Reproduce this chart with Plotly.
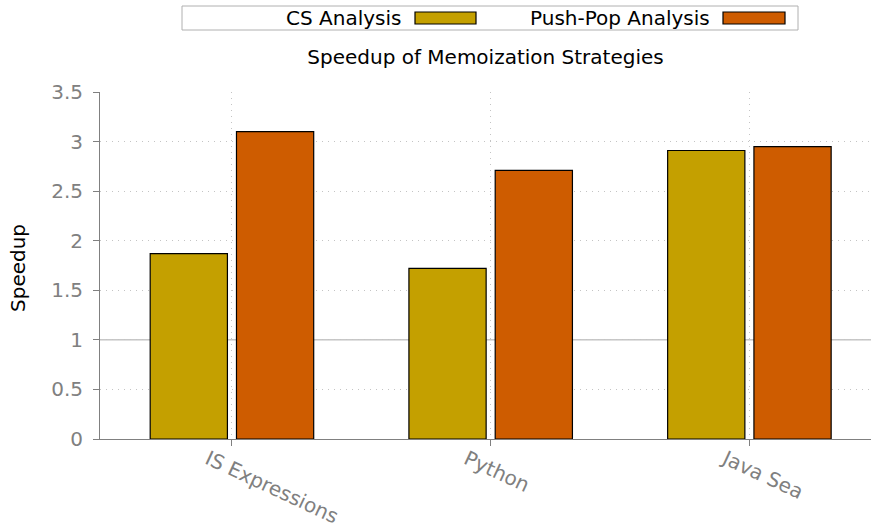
import plotly.graph_objects as go

categories = ["IS Expressions", "Python", "Java Sea"]
cs_analysis = [1.87, 1.72, 2.91]
push_pop_analysis = [3.10, 2.71, 2.95]
series_names = ["CS Analysis", "Push-Pop Analysis"]
series_colors = ["#C4A000", "#CE5C00"]
y_title = "Speedup"
chart_title = "Speedup of Memoization Strategies"

FONT = "DejaVu Sans"
GREY = "#808080"
GRID = "#c4c4c4"

fig = go.Figure()
for name, vals, col in zip(series_names, [cs_analysis, push_pop_analysis], series_colors):
    fig.add_trace(go.Bar(
        x=categories, y=vals, name=name,
        marker=dict(color=col, line=dict(color="black", width=1.2)),
        showlegend=False,
    ))

fig.update_layout(
    width=871, height=528,
    margin=dict(l=100, r=0, t=92, b=89),
    paper_bgcolor="white", plot_bgcolor="white",
    barmode="group", bargap=0.333, bargroupgap=0.105,
    font=dict(family=FONT, size=20, color=GREY),
    title=dict(text=chart_title, x=0.5, xref="paper",
               y=1 - 57 / 528, yref="container", yanchor="middle",
               font=dict(family=FONT, size=20, color="black")),
    xaxis=dict(
        range=[-0.51, 2.47], showline=True, linecolor=GREY, linewidth=1,
        ticks="outside", ticklen=6, tickcolor=GREY, tickangle=25,
        ticklabelshift=-24, ticklabelstandoff=-6, automargin=False,
        showgrid=True, gridcolor=GRID, griddash="1px,5px", gridwidth=1,
        tickfont=dict(family=FONT, size=20, color=GREY),
        zeroline=False,
    ),
    yaxis=dict(
        range=[0, 3.5], dtick=0.5, showline=True, linecolor=GREY, linewidth=1,
        ticks="outside", ticklen=6, tickcolor=GREY, automargin=False,
        ticklabelstandoff=6,
        showgrid=True, gridcolor=GRID, griddash="1px,5px", gridwidth=1,
        tickfont=dict(family=FONT, size=20, color=GREY),
        zeroline=False,
    ),
    showlegend=False,
)

# reference line at 1
fig.add_shape(type="line", xref="paper", yref="y", x0=0, x1=1, y0=1, y1=1,
              line=dict(color="#a8a8a8", width=1), layer="below")

# paper coords derived from pixel layout
PL, PW, PB, PH = 100, 771, 439, 347
def fx(x):
    return (x - PL) / PW
def fy(y):
    return (PB - y) / PH

# y-axis title
fig.add_annotation(text=y_title, xref="paper", yref="paper", x=fx(18), y=fy(268),
                   textangle=-90, showarrow=False, xanchor="center", yanchor="middle",
                   font=dict(family=FONT, size=20, color="black"))

# gnuplot-style legend box (text then swatch)
fig.add_shape(type="rect", xref="paper", yref="paper",
              x0=fx(182), x1=fx(798), y0=fy(30), y1=fy(6),
              line=dict(color="#b0b0b0", width=1), fillcolor="white")

legend_items = [
    (series_names[0], series_colors[0], 403, 415, 476),
    (series_names[1], series_colors[1], 712, 723, 785),
]
for name, col, text_right, sx0, sx1 in legend_items:
    fig.add_annotation(text=name, xref="paper", yref="paper",
                       x=fx(text_right), y=fy(18),
                       xanchor="right", yanchor="middle", showarrow=False,
                       font=dict(family=FONT, size=20, color="black"))
    fig.add_shape(type="rect", xref="paper", yref="paper",
                  x0=fx(sx0), x1=fx(sx1), y0=fy(24), y1=fy(12),
                  line=dict(color="black", width=1.2), fillcolor=col)

fig.write_html("out.html", config={"displayModeBar": False},
               post_script="document.body.style.margin='0';")
